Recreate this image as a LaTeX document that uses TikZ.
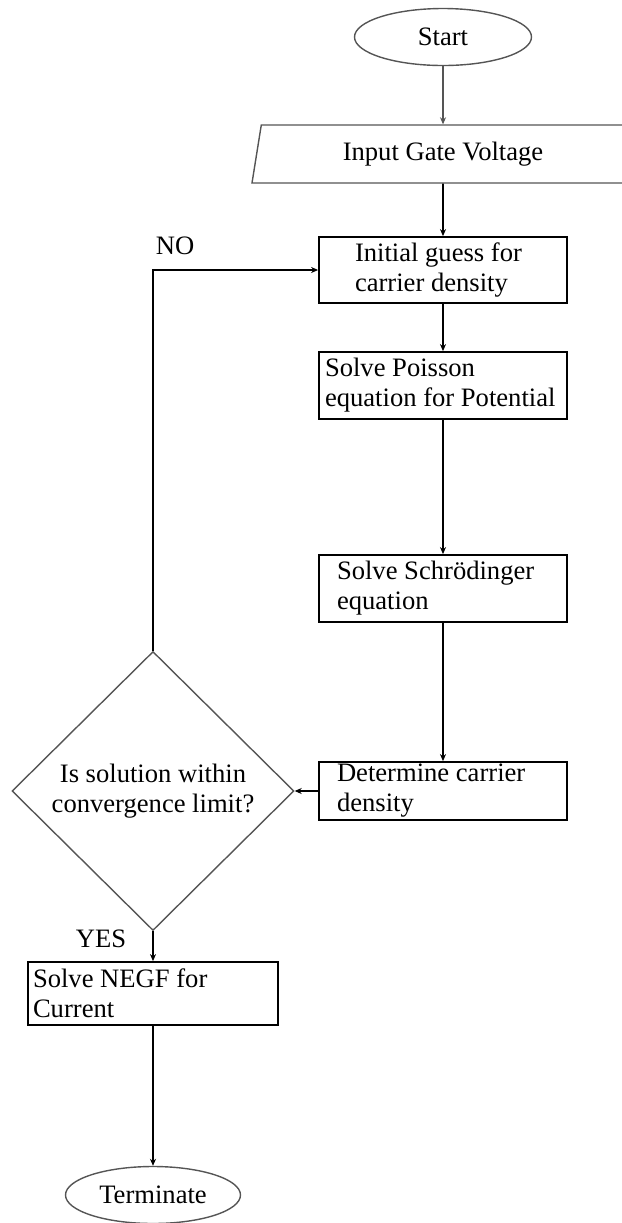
\documentclass[tikz,border=0pt]{standalone}
\usepackage{fontspec}
\setmainfont{Liberation Serif}
\usepackage{xcolor}
\definecolor{cLine}{HTML}{000000}
\definecolor{cShape}{HTML}{555555}
\usepackage{tikz}
\usetikzlibrary{positioning,arrows.meta,shapes.geometric}
\tikzset{
  node-term/.style={draw=cShape,line width=0.7pt,ellipse,
    minimum width=88.5pt,minimum height=28.5pt,inner sep=0pt},
  node-io/.style={draw=cShape,line width=0.7pt,trapezium,
    trapezium left angle=69,trapezium right angle=111,
    trapezium stretches body,minimum width=191pt,minimum height=29pt,
    inner sep=0pt},
  node-box/.style={draw=cLine,line width=0.9pt,rectangle,align=flush left,
    inner ysep=0pt},
  node-decision/.style={draw=cShape,line width=0.7pt,diamond,
    minimum width=141pt,minimum height=139.5pt,inner sep=0pt,align=center},
  arrow/.style={-{Stealth[length=3.5pt,width=3pt]},line width=0.8pt,draw=cLine},
  arrow-gray/.style={arrow,draw=cShape},
  label-text/.style={inner sep=0pt},
}

\begin{document}
\begin{tikzpicture}[x=0.5pt,y=-0.5pt,font=\fontsize{13.3}{15}\selectfont]
  \useasboundingbox (0,0) rectangle (622,1223);
  % main column
  \node[node-term] (start) at (443,37) {Start};
  \node[node-io] (input) at (443,154) {Input Gate Voltage};
  \node[node-box,minimum height=33pt,text width=88pt,inner xsep=18pt]
    (init) at (443,270) {Initial guess for\\carrier density};
  \node[node-box,minimum height=33.5pt,text width=118pt,inner xsep=3pt]
    (poisson) at (443,385.5) {Solve Poisson\\equation for Potential};
  \node[node-box,minimum height=33.5pt,text width=106pt,inner xsep=9pt]
    (schrod) at (443,588.5) {Solve Schrödinger\\equation};
  \node[node-box,minimum height=29pt,text width=106pt,inner xsep=9pt]
    (carrier) at (443,791) {Determine carrier\\density};
  % left column
  \node[node-decision] (check) at (153,791)
    {Is solution within\\convergence limit?};
  \node[node-box,minimum height=31.5pt,text width=120pt,inner xsep=2.5pt]
    (negf) at (153,993.5) {Solve NEGF for\\Current};
  \node[node-term,minimum width=87.5pt] (term) at (153,1195) {Terminate};

  \draw[arrow-gray] (start) -- (input);
  \draw[arrow] (input) -- (init);
  \draw[arrow] (init) -- (poisson);
  \draw[arrow] (poisson) -- (schrod);
  \draw[arrow] (schrod) -- (carrier);
  \draw[arrow] (carrier.west) -- (check.east);
  \draw[arrow] (check.north) |- node[pos=0.5,label-text,anchor=south west,
    xshift=1pt,yshift=7pt]{NO} (init.west);
  \draw[arrow] (check.south) -- node[pos=0.25,label-text,anchor=east,
    xshift=-13pt]{YES} (negf.north);
  \draw[arrow] (negf) -- (term);
\end{tikzpicture}
\end{document}
